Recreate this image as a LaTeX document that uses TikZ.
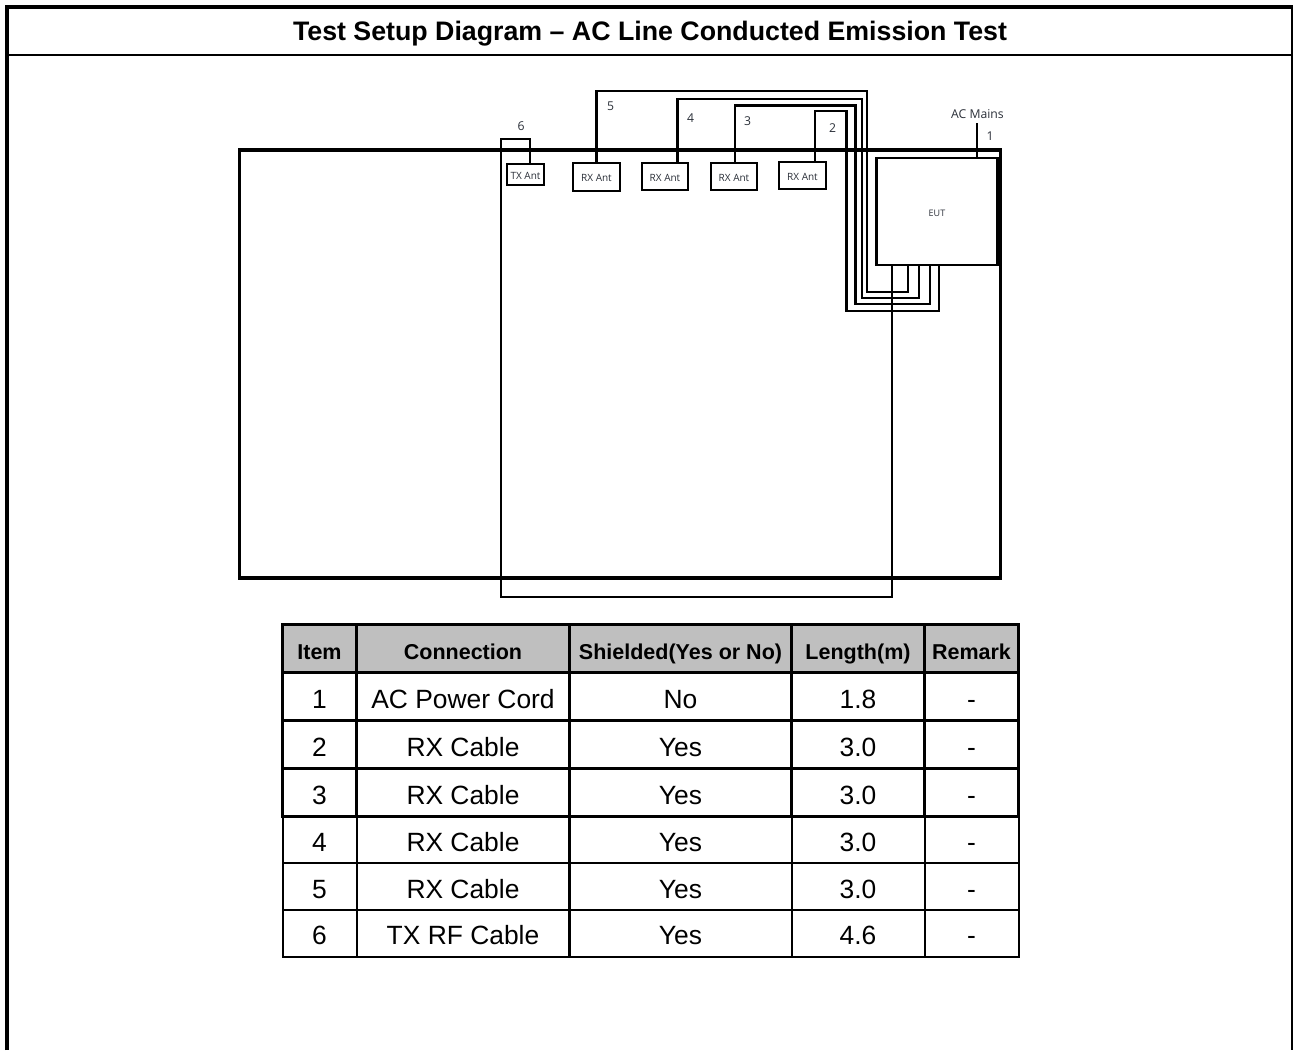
\documentclass[tikz,border=0pt]{standalone}
\usepackage{fontspec}
\setmainfont{Liberation Sans}
\newfontfamily\labelfont{Open Sans}
\definecolor{headgrey}{HTML}{BFBFBF}
\definecolor{labelink}{HTML}{2A2F38}
\tikzset{
  every node/.style={inner sep=0pt,outer sep=0pt},
  frameline/.style={line width=3.5pt,line cap=butt},
  roomline/.style={line width=3.5pt},
  cable/.style={line width=2.1pt,line join=miter},
  antbox/.style={draw=black,fill=white,line width=2.4pt,text=labelink,text height=9pt,text depth=0pt,font=\labelfont\fontsize{10}{10}\selectfont},
  eutbox/.style={draw=black,line width=2.2pt,text=labelink,text height=10.5pt,text depth=0pt,font=\labelfont\fontsize{9}{9}\selectfont},
  cablelabel/.style={text=labelink,font=\labelfont\fontsize{12.2}{13}\selectfont},
  headcell/.style={draw,fill=headgrey,line width=2.7pt,minimum height=47.5pt,text height=22.5pt,text depth=0pt,font=\bfseries\fontsize{21.5}{24}\selectfont},
  cell/.style={draw,line width=2.7pt,minimum height=48pt,text height=24pt,text depth=0pt,font=\fontsize{26.4}{28}\selectfont},
  thincell/.style={draw,line width=2pt,minimum height=47pt,text height=23pt,text depth=0pt,font=\fontsize{26.4}{28}\selectfont},
  wa/.style={minimum width=74pt},
  wb/.style={minimum width=212.5pt},
  wc/.style={minimum width=222pt},
  wd/.style={minimum width=133pt},
  we/.style={minimum width=94pt},
}
\begin{document}
\begin{tikzpicture}[x=1pt,y=-1pt]
\useasboundingbox (0,0) rectangle (1293,1050);
% page frame
\draw[frameline] (6.8,1050) -- (6.8,6.8) -- (1293,6.8);
\draw[line width=2.4pt] (1292.2,5) -- (1292.2,1050);
\draw[line width=2pt] (6.8,54.5) -- (1292,54.5);
\node[font=\bfseries\fontsize{26.75}{28}\selectfont,text height=18pt,text depth=0pt] (title) at (650,31) {Test Setup Diagram -- AC Line Conducted Emission Test};
% chamber
\node[draw,roomline,minimum width=761pt,minimum height=428pt] (room) at (620,364) {};
% equipment
\node[antbox,line width=2pt,minimum width=37pt,minimum height=21pt] (tx) at (525.5,174.5) {TX Ant};
\node[antbox,minimum width=47pt,minimum height=28pt] (rxe) at (596.5,177) {RX Ant};
\node[antbox,minimum width=46.5pt,minimum height=27pt] (rxd) at (665,176.5) {RX Ant};
\node[antbox,minimum width=46.5pt,minimum height=27pt] (rxc) at (734,176.5) {RX Ant};
\node[antbox,minimum width=46.5pt,minimum height=27.5pt] (rxb) at (802.5,175.5) {RX Ant};
\node[eutbox,minimum width=121pt,minimum height=107pt] (eut) at (937,211.5) {EUT};
\coordinate (mains) at (977,123);
% cables
\draw[cable] (mains) -- (mains |- eut.north);
\draw[cable] (814.7,0 |- rxb.north) -- (814.7,111.3) -- (846.5,111.3) -- (846.5,311) -- (938.8,311) -- (938.8,0 |- eut.south);
\draw[cable] (735,0 |- rxc.north) -- (735,105.5) -- (855.5,105.5) -- (855.5,304.3) -- (930,304.3) -- (930,0 |- eut.south);
\draw[cable] (677.5,0 |- rxd.north) -- (677.5,99.3) -- (861.7,99.3) -- (861.7,298.3) -- (919.3,298.3) -- (919.3,0 |- eut.south);
\draw[cable] (rxe.north) -- (596.5,91) -- (867,91) -- (867,292.3) -- (907.7,292.3) -- (907.7,0 |- eut.south);
\draw[cable] (530,0 |- tx.north) -- (530,139) -- (500.8,139) -- (500.8,597) -- (891.8,597) -- (891.8,0 |- eut.south);
% cable labels
\node[cablelabel] (lmains) at (977.5,114) {AC Mains};
\node[cablelabel] (l1) at (990,136) {1};
\node[cablelabel] (l2) at (832.5,128.5) {2};
\node[cablelabel] (l3) at (747.5,121.5) {3};
\node[cablelabel] (l4) at (690.5,118.5) {4};
\node[cablelabel] (l5) at (610.5,106.5) {5};
\node[cablelabel] (l6) at (521,126) {6};
% table
\node[headcell,wa] (h1) at (319.5,648.5) {Item};
\node[headcell,wb] (h2) at (463,648.5) {Connection};
\node[headcell,wc] (h3) at (680.5,648.5) {Shielded(Yes or No)};
\node[headcell,wd] (h4) at (858,648.5) {Length(m)};
\node[headcell,we] (h5) at (971.5,648.5) {Remark};
\foreach \r/\yy/\cstyle/\a/\b/\c/\d in {
 1/696.5/cell/1/AC Power Cord/No/1.8,
 2/744.5/cell/2/RX Cable/Yes/3.0,
 3/792.5/cell/3/RX Cable/Yes/3.0,
 4/839.5/thincell/4/RX Cable/Yes/3.0,
 5/886.5/thincell/5/RX Cable/Yes/3.0,
 6/933/thincell/6/TX RF Cable/Yes/4.6}{
  \node[\cstyle,wa] (r\r a) at (319.5,\yy) {\a};
  \node[\cstyle,wb] (r\r b) at (463,\yy) {\b};
  \node[\cstyle,wc] (r\r c) at (680.5,\yy) {\c};
  \node[\cstyle,wd] (r\r d) at (858,\yy) {\d};
  \node[\cstyle,we] (r\r e) at (971.5,\yy) {-};
}
\end{tikzpicture}
\end{document}
